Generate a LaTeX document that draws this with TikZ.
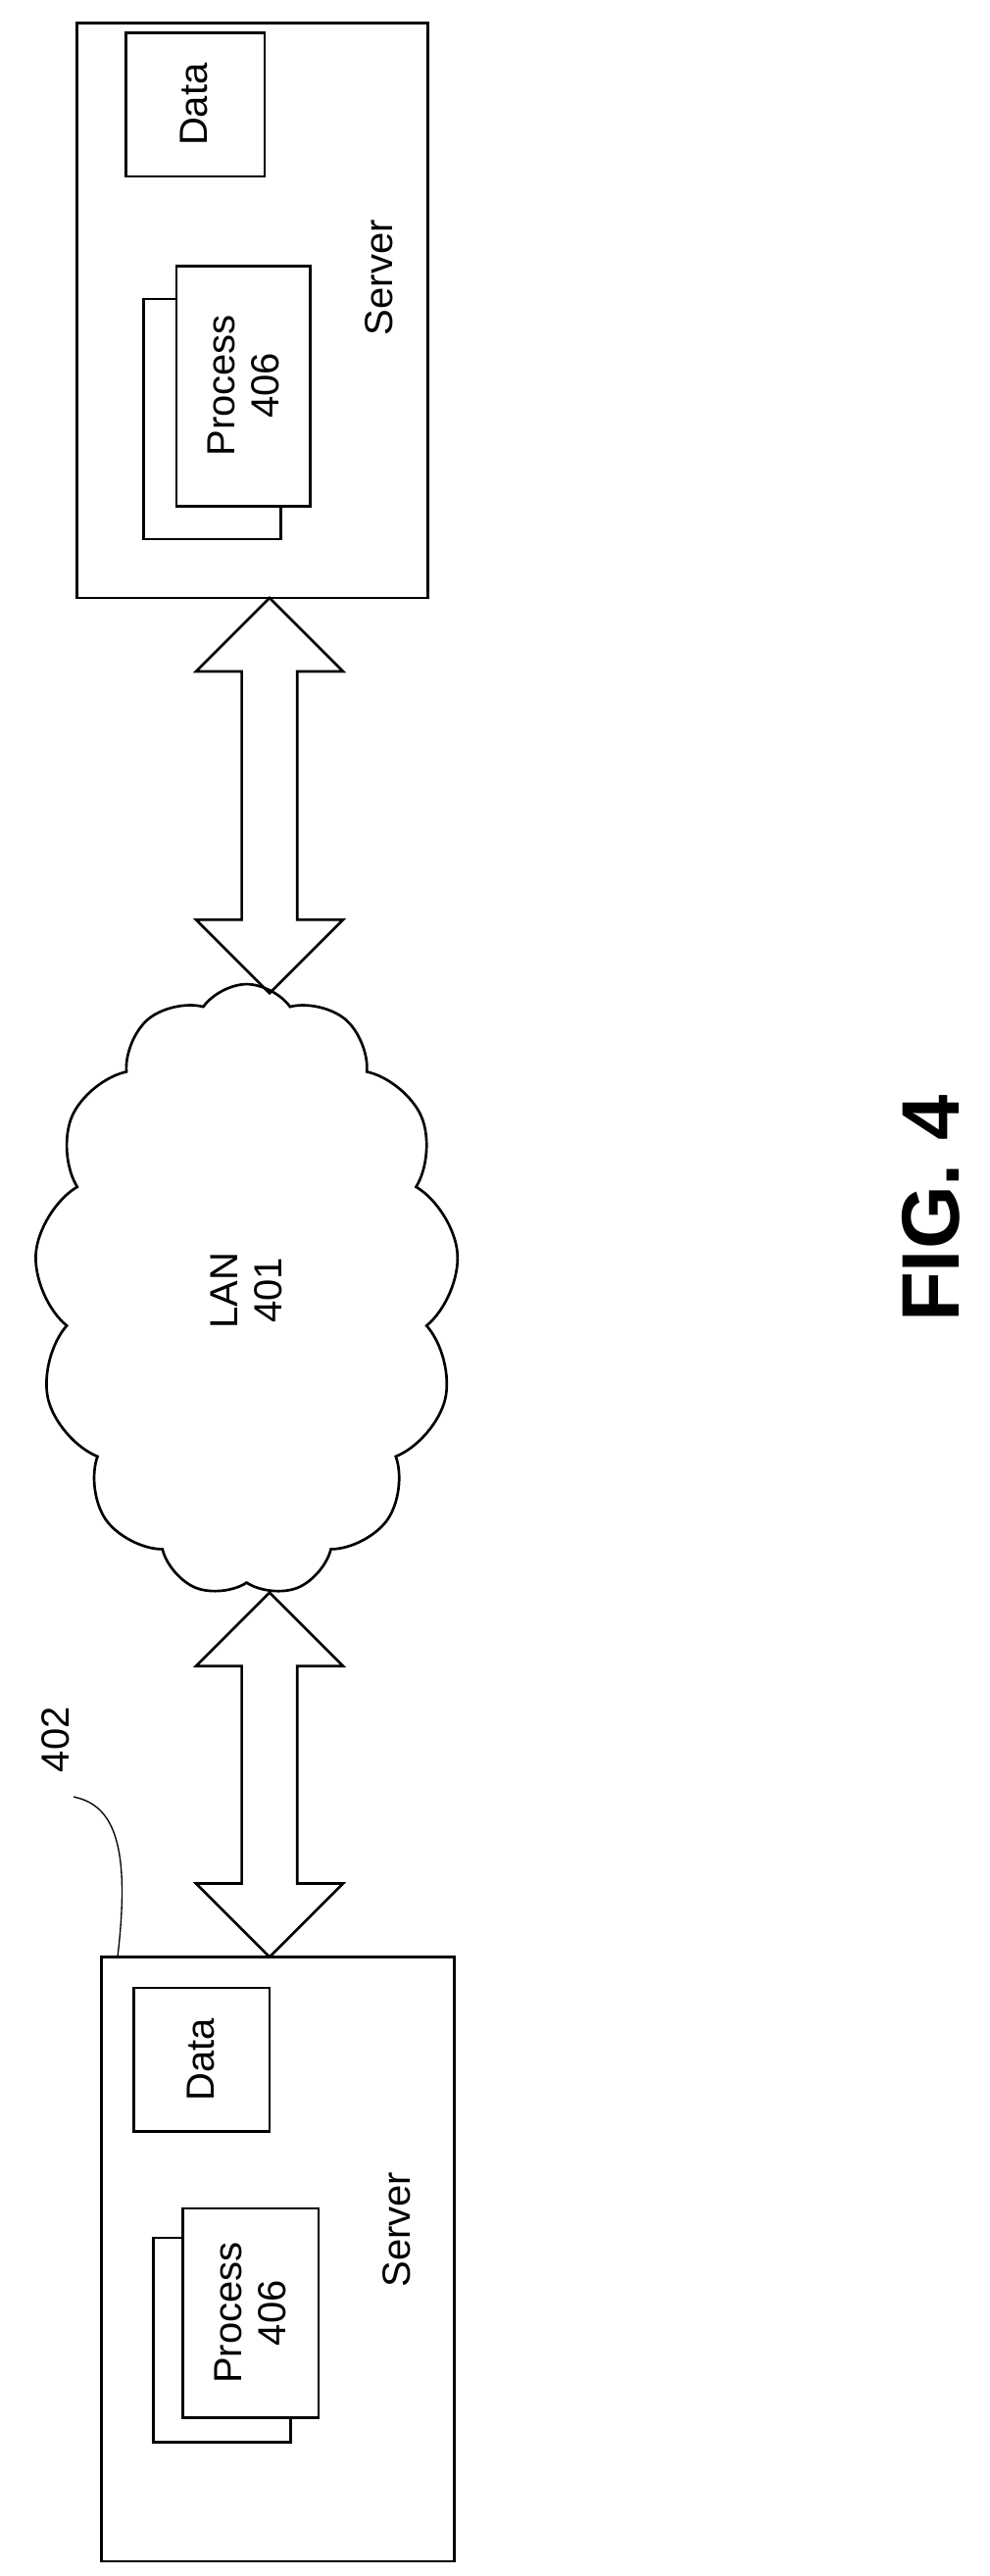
\documentclass[tikz,border=0pt]{standalone}
\usepackage{fontspec}
\setmainfont{Liberation Sans}
\usetikzlibrary{shapes.symbols}
\begin{document}
\begin{tikzpicture}[x=1pt,y=-1pt,line width=1.6pt,
 box/.style={draw,fill=white},
 lbl/.style={font=\fontsize{24}{27}\selectfont,rotate=90,align=center}]
\useasboundingbox (0,0) rectangle (606,1577);
\def\dblarrow#1#2#3{%
 \draw (#1,#2) -- (#1+45,#2+45) -- (#1+17,#2+45) -- (#1+17,#3-45) -- (#1+45,#3-45) -- (#1,#3)
 -- (#1-45,#3-45) -- (#1-17,#3-45) -- (#1-17,#2+45) -- (#1-45,#2+45) -- cycle;}
% top server
\draw[box] (47,14) rectangle (262,366);
\draw[box] (77,20) rectangle (162,108);
\node[lbl] (d1) at (119,64) {Data};
\draw[box] (88,183) rectangle (172,330);
\draw[box] (108,163) rectangle (190,310);
\node[lbl] (p1) at (149,236) {Process\\406};
\node[lbl] (s1) at (232,170) {Server};
\dblarrow{165}{366}{608}
% cloud
\node[cloud,draw,cloud puffs=13,cloud puff arc=110,aspect=0.7,minimum width=260,minimum height=375,inner sep=0] (lan) at (151,790) {};
\node[lbl] (lt) at (151,790) {LAN\\401};
\dblarrow{165}{975}{1198}
% bottom server
\draw[box] (62,1198) rectangle (278,1568);
\draw[box] (82,1217) rectangle (165,1305);
\node[lbl] (d2) at (123,1261) {Data};
\draw[box] (94,1370) rectangle (178,1495);
\draw[box] (112,1352) rectangle (195,1480);
\node[lbl] (p2) at (153,1416) {Process\\406};
\node[lbl] (s2) at (243,1365) {Server};
\node[lbl] (n402) at (34,1065) {402};
\draw[line width=0.8pt] (45,1100) .. controls (70,1105) and (80,1130) .. (72,1198);
\node[rotate=90,font=\bfseries\fontsize{50}{56}\selectfont] (fig) at (570,740) {FIG. 4};
\end{tikzpicture}
\end{document}
